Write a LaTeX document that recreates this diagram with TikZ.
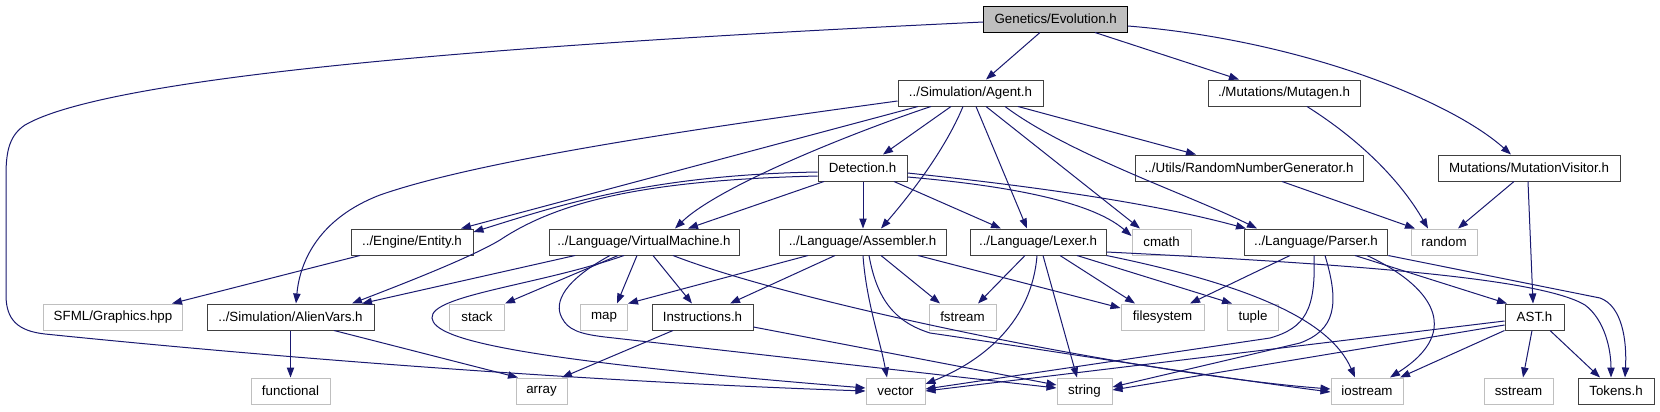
\documentclass[tikz,border=0pt]{standalone}
\usepackage{fontspec}
\setmainfont{Liberation Sans}
\usetikzlibrary{arrows.meta}
\definecolor{edgec}{RGB}{25,25,112}
\definecolor{filec}{RGB}{64,64,64}
\definecolor{extc}{RGB}{191,191,191}
\def\px{0.75pt}
\tikzset{
  nbase/.style={rectangle, inner sep=0pt, minimum height=26*\px, line width=\px, fill=white, text=black, font=\fontsize{10pt}{12pt}\selectfont},
  filebox/.style={nbase, draw=filec},
  extbox/.style={nbase, draw=extc},
  rootbox/.style={nbase, draw=black, fill=extc},
  e/.style={draw=edgec, line width=\px, -{Triangle[length=7.5pt,width=5.5pt,fill=edgec]}},
}
\begin{document}
\begin{tikzpicture}[x=0.75pt,y=-0.75pt]
\useasboundingbox (0,0) rectangle (1660,411);
\fill[white] (0,0) rectangle (1660,411);
% nodes
\node[rootbox, minimum width=143.5*\px] (evo) at (1055.7,19) {Genetics/Evolution.h};
\node[filebox, minimum width=145*\px] (agent) at (970.5,93) {../Simulation/Agent.h};
\node[filebox, minimum width=152*\px] (mutagen) at (1284,93) {./Mutations/Mutagen.h};
\node[filebox, minimum width=89*\px] (detect) at (862.5,168) {Detection.h};
\node[filebox, minimum width=228*\px] (rng) at (1249,168) {../Utils/RandomNumberGenerator.h};
\node[filebox, minimum width=182*\px] (mutvis) at (1529,168) {Mutations/MutationVisitor.h};
\node[filebox, minimum width=122*\px] (entity) at (412,242) {../Engine/Entity.h};
\node[filebox, minimum width=190*\px] (vm) at (644,242) {../Language/VirtualMachine.h};
\node[filebox, minimum width=167*\px] (asm) at (862.5,242) {../Language/Assembler.h};
\node[filebox, minimum width=136*\px] (lexer) at (1038,242) {../Language/Lexer.h};
\node[extbox, minimum width=59*\px] (cmath) at (1161.5,242) {cmath};
\node[filebox, minimum width=143.5*\px] (parser) at (1316,242) {../Language/Parser.h};
\node[extbox, minimum width=66*\px] (random) at (1444,242) {random};
\node[extbox, minimum width=139*\px] (sfml) at (113,317) {SFML/Graphics.hpp};
\node[filebox, minimum width=167*\px] (alien) at (290.5,317) {../Simulation/AlienVars.h};
\node[extbox, minimum width=55*\px] (stack) at (477,317) {stack};
\node[extbox, minimum width=47*\px] (map) at (604,317) {map};
\node[filebox, minimum width=101*\px] (instr) at (702.5,317) {Instructions.h};
\node[extbox, minimum width=67*\px] (fstream) at (962.5,317) {fstream};
\node[extbox, minimum width=83*\px] (filesys) at (1162.5,317) {filesystem};
\node[extbox, minimum width=51*\px] (tuple) at (1253,317) {tuple};
\node[filebox, minimum width=59*\px] (ast) at (1534.5,317) {AST.h};
\node[extbox, minimum width=79*\px] (functional) at (290.5,391) {functional};
\node[extbox, minimum width=51*\px] (array) at (541.5,391) {array};
\node[extbox, minimum width=59*\px] (vector) at (895.5,391) {vector};
\node[extbox, minimum width=55*\px] (string) at (1084.5,391) {string};
\node[extbox, minimum width=72*\px] (iostream) at (1367,391) {iostream};
\node[extbox, minimum width=69*\px] (sstream) at (1518.5,391) {sstream};
\node[filebox, minimum width=76*\px] (tokens) at (1616,391) {Tokens.h};
% Evolution
\draw[e] (evo.south -| 1040,0) -- (agent.north -| 986,0);
\draw[e] (evo.south -| 1095,0) -- (mutagen.north -| 1239,0);
\draw[e] (evo.east |- 0,26) .. controls (1300,40) and (1450,100) .. (mutvis.north -| 1511,0);
\draw[e] (evo.west |- 0,22) .. controls (600,40) and (120,70) .. (25,125)
  .. controls (10,135) and (6,150) .. (6,175) -- (6,295)
  .. controls (6,320) and (18,331) .. (45,334)
  .. controls (300,360) and (600,382) .. (vector.west |- 0,391);
% Agent
\draw[e] (agent.west |- 0,101) .. controls (700,128) and (480,160) .. (380,195)
  .. controls (320,218) and (300,260) .. (alien.north -| 296,0);
\draw[e] (agent.south -| 918,0) -- (entity.north -| 461,0);
\draw[e] (agent.south -| 931,0) .. controls (860,130) and (720,185) .. (vm.north -| 675,0);
\draw[e] (agent.south -| 951,0) -- (detect.north -| 883,0);
\draw[e] (agent.south -| 963,0) .. controls (945,150) and (910,195) .. (asm.north -| 881,0);
\draw[e] (agent.south -| 976,0) -- (lexer.north -| 1027,0);
\draw[e] (agent.south -| 986,0) -- (cmath.north -| 1140,0);
\draw[e] (agent.south -| 1005,0) .. controls (1070,155) and (1190,195) .. (parser.north -| 1257,0);
\draw[e] (agent.south -| 1018,0) -- (rng.north -| 1196,0);
% Mutagen, RNG, MutationVisitor
\draw[e] (mutagen.south -| 1307,0) .. controls (1360,140) and (1400,180) .. (random.north -| 1428,0);
\draw[e] (rng.south -| 1282,0) -- (random.north -| 1415,0);
\draw[e] (mutvis.south -| 1514,0) -- (random.north -| 1458,0);
\draw[e] (mutvis.south -| 1528,0) -- (ast.north -| 1533,0);
% Detection
\draw[e] (detect.west |- 0,172) .. controls (650,175) and (560,205) .. (entity.east |- 0,232);
\draw[e] (detect.west |- 0,176) .. controls (650,180) and (560,200) .. (500,240)
  .. controls (470,258) and (400,285) .. (alien.north -| 352,0);
\draw[e] (detect.south -| 824,0) -- (vm.north -| 688,0);
\draw[e] (detect.south -| 863,0) -- (asm.north -| 863,0);
\draw[e] (detect.south -| 894,0) -- (lexer.north -| 1001,0);
\draw[e] (detect.east |- 0,177) .. controls (1000,185) and (1090,200) .. (cmath.west |- 0,236);
\draw[e] (detect.east |- 0,173) .. controls (1050,188) and (1160,205) .. (parser.north -| 1246,0);
% Entity
\draw[e] (entity.south -| 360,0) -- (sfml.north -| 172,0);
% VirtualMachine
\draw[e] (vm.south -| 575,0) -- (alien.north -| 362,0);
\draw[e] (vm.south -| 618,0) -- (stack.north east);
\draw[e] (vm.south -| 637,0) -- (map.north -| 617,0);
\draw[e] (vm.south -| 653,0) -- (instr.north -| 692,0);
\draw[e] (vm.south -| 624,0) .. controls (540,285) and (430,295) .. (432,318)
  .. controls (434,340) and (520,360) .. (vector.west |- 0,388);
\draw[e] (vm.south -| 610,0) .. controls (565,280) and (553,302) .. (562,318)
  .. controls (568,330) and (580,334) .. (605,337) -- (string.west |- 0,388);
\draw[e] (vm.south -| 673,0) .. controls (800,305) and (1150,375) .. (iostream.west |- 0,389);
% Assembler
\draw[e] (asm.south -| 808,0) -- (map.north east);
\draw[e] (asm.south -| 835,0) -- (instr.north -| 730,0);
\draw[e] (asm.south -| 863,0) .. controls (866,300) and (880,340) .. (vector.north -| 887,0);
\draw[e] (asm.south -| 869,0) .. controls (877,300) and (895,322) .. (930,333)
  .. controls (1000,343) and (1200,375) .. (iostream.west |- 0,392);
\draw[e] (asm.south -| 881,0) -- (fstream.north -| 940,0);
\draw[e] (asm.south -| 918,0) -- (filesys.west |- 0,308);
% Lexer
\draw[e] (lexer.south -| 1025,0) -- (fstream.north -| 978,0);
\draw[e] (lexer.south -| 1037,0) .. controls (1032,320) and (985,360) .. (vector.east |- 0,384);
\draw[e] (lexer.south -| 1043,0) -- (string.north -| 1077,0);
\draw[e] (lexer.south -| 1060,0) -- (filesys.north -| 1135,0);
\draw[e] (lexer.south -| 1077,0) -- (tuple.north -| 1232,0);
\draw[e] (lexer.south east) .. controls (1250,285) and (1330,320) .. (iostream.north -| 1355,0);
\draw[e] (lexer.east |- 0,252) .. controls (1350,264) and (1540,278) .. (1585,305)
  .. controls (1605,320) and (1611,350) .. (tokens.north -| 1611,0);
% Parser
\draw[e] (parser.south -| 1290,0) -- (filesys.north -| 1190,0);
\draw[e] (parser.south -| 1314,0) .. controls (1316,310) and (1305,328) .. (1270,338) -- (vector.east |- 0,389);
\draw[e] (parser.south -| 1325,0) .. controls (1340,305) and (1335,330) .. (1300,343) -- (string.east |- 0,387);
\draw[e] (parser.south -| 1367,0) .. controls (1430,285) and (1465,330) .. (iostream.north -| 1390,0);
\draw[e] (parser.south -| 1355,0) -- (ast.north -| 1507,0);
\draw[e] (parser.south east) -- (1600,298) .. controls (1622,306) and (1627,340) .. (tokens.north -| 1625,0);
% AST
\draw[e] (ast.west |- 0,321) -- (vector.east |- 0,391);
\draw[e] (ast.west |- 0,325) -- (string.east |- 0,390);
\draw[e] (ast.south west) -- (iostream.north -| 1400,0);
\draw[e] (ast.south -| 1532,0) -- (sstream.north -| 1523,0);
\draw[e] (ast.south -| 1550,0) -- (tokens.north -| 1600,0);
% Instructions
\draw[e] (instr.south -| 673,0) -- (array.north -| 562,0);
\draw[e] (instr.east |- 0,327) -- (string.west |- 0,385);
% AlienVars
\draw[e] (alien.south) -- (functional.north);
\draw[e] (alien.south -| 334,0) -- (array.north -| 518,0);
\end{tikzpicture}
\end{document}
